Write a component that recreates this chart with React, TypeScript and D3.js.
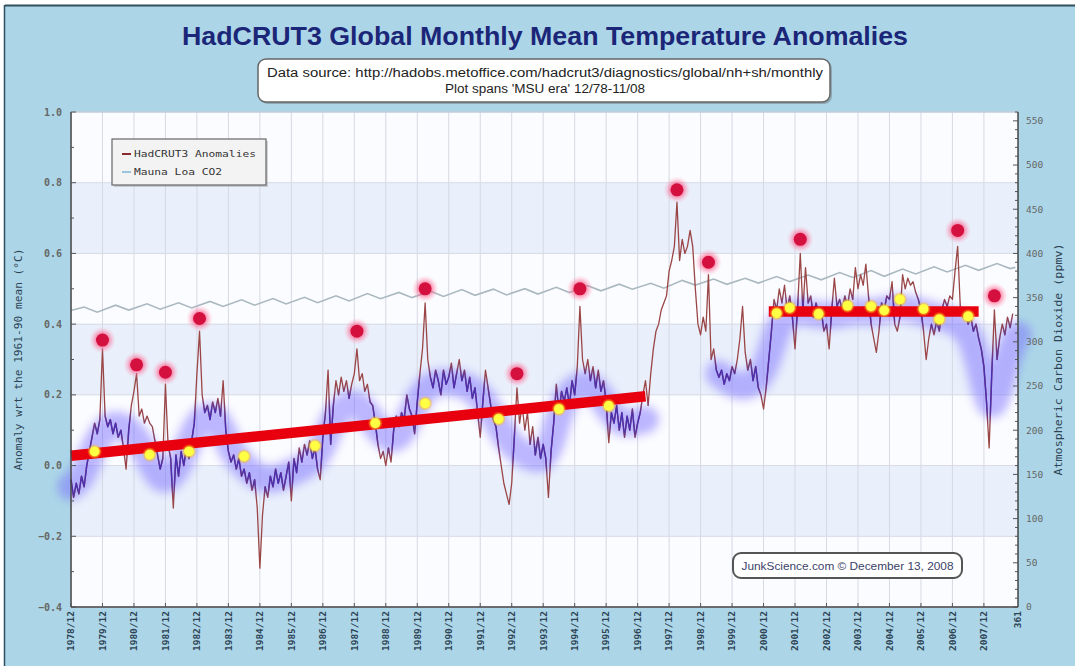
import React from 'react'
import * as d3 from 'd3'

// HadCRUT3 monthly anomalies, 12/78 .. 11/08 (one row per Dec..Nov year)
const anomalies: number[] = [
  -0.04, -0.09, -0.05, -0.08, -0.03, -0.06, 0.00, 0.04, 0.08, 0.12, 0.09, 0.13,
  0.33, 0.14, 0.11, 0.13, 0.09, 0.12, 0.08, 0.10, 0.05, -0.01, 0.10, 0.17,
  0.21, 0.26, 0.14, 0.16, 0.12, 0.14, 0.12, 0.11, 0.07, 0.03, -0.01, 0.02,
  0.23, 0.06, 0.02, -0.12, 0.03, -0.03, 0.04, 0.00, 0.05, 0.02, 0.07, 0.12,
  0.26, 0.38, 0.20, 0.15, 0.17, 0.13, 0.18, 0.15, 0.19, 0.14, 0.24, 0.10,
  0.04, 0.01, 0.03, -0.01, 0.02, -0.03, -0.01, -0.05, -0.02, -0.07, -0.04, -0.12,
  -0.29, -0.14, -0.06, -0.09, -0.03, -0.06, -0.01, -0.05, -0.02, -0.07, -0.03, 0.01,
  -0.10, 0.02, -0.02, 0.05, 0.01, 0.06, 0.03, 0.07, 0.02, 0.05, -0.01, -0.04,
  0.08, 0.15, 0.27, 0.06, 0.17, 0.24, 0.20, 0.25, 0.21, 0.24, 0.19, 0.23,
  0.26, 0.33, 0.24, 0.26, 0.21, 0.23, 0.18, 0.17, 0.12, 0.06, 0.02, 0.04,
  0.00, 0.05, 0.01, 0.10, 0.14, 0.11, 0.15, 0.13, 0.20, 0.16, 0.14, 0.09,
  0.18, 0.26, 0.33, 0.46, 0.30, 0.25, 0.22, 0.27, 0.24, 0.20, 0.27, 0.23,
  0.25, 0.29, 0.22, 0.26, 0.30, 0.24, 0.27, 0.21, 0.25, 0.19, 0.22, 0.15,
  0.08, 0.18, 0.27, 0.22, 0.17, 0.13, 0.11, 0.05, 0.00, -0.05, -0.08, -0.11,
  -0.05, 0.08, 0.22, 0.12, 0.17, 0.10, 0.15, 0.06, 0.11, 0.03, 0.08, 0.02,
  0.06, 0.02, -0.09, 0.04, 0.12, 0.23, 0.15, 0.21, 0.18, 0.22, 0.17, 0.24,
  0.20, 0.28, 0.45, 0.30, 0.26, 0.30, 0.24, 0.28, 0.22, 0.27, 0.21, 0.24,
  0.18, 0.065, 0.15, 0.12, 0.17, 0.10, 0.15, 0.08, 0.14, 0.10, 0.16, 0.08,
  0.12, 0.15, 0.20, 0.24, 0.17, 0.26, 0.33, 0.38, 0.40, 0.44, 0.46, 0.48,
  0.55, 0.58, 0.62, 0.745, 0.58, 0.64, 0.60, 0.62, 0.665, 0.62, 0.50, 0.40,
  0.37, 0.42, 0.38, 0.54, 0.30, 0.33, 0.27, 0.25, 0.27, 0.23, 0.26, 0.24,
  0.28, 0.26, 0.30, 0.36, 0.45, 0.32, 0.27, 0.30, 0.24, 0.28, 0.22, 0.20,
  0.16, 0.22, 0.30, 0.38, 0.47, 0.44, 0.50, 0.46, 0.51, 0.44, 0.48, 0.42,
  0.33, 0.45, 0.60, 0.44, 0.56, 0.46, 0.48, 0.42, 0.46, 0.43, 0.44, 0.38,
  0.40, 0.33, 0.44, 0.53, 0.45, 0.47, 0.44, 0.48, 0.45, 0.50, 0.47, 0.56,
  0.50, 0.54, 0.51, 0.57, 0.48, 0.40, 0.36, 0.32, 0.38, 0.46, 0.44, 0.48,
  0.47, 0.52, 0.40, 0.38, 0.42, 0.54, 0.50, 0.53, 0.51, 0.52, 0.49, 0.47,
  0.44, 0.38, 0.30, 0.36, 0.40, 0.37, 0.41, 0.38, 0.44, 0.47, 0.45, 0.48,
  0.47, 0.55, 0.62, 0.45, 0.42, 0.43, 0.40, 0.42, 0.38, 0.40, 0.36, 0.33,
  0.28, 0.18, 0.05, 0.26, 0.44, 0.30, 0.36, 0.40, 0.37, 0.42, 0.39, 0.43,
]

const yearLabels = [
  '1978/12', '1979/12', '1980/12', '1981/12', '1982/12', '1983/12', '1984/12', '1985/12',
  '1986/12', '1987/12', '1988/12', '1989/12', '1990/12', '1991/12', '1992/12', '1993/12',
  '1994/12', '1995/12', '1996/12', '1997/12', '1998/12', '1999/12', '2000/12', '2001/12',
  '2002/12', '2003/12', '2004/12', '2005/12', '2006/12', '2007/12',
]
const endLabel = '361'

// Mauna Loa CO2 turning points (month index, ppmv)
const co2Months = [0, 5, 10, 17, 22, 29, 34, 41, 46, 53, 58, 65, 70, 77, 82, 89, 94, 101, 106,
  113, 118, 125, 130, 137, 142, 149, 154, 161, 166, 173, 178, 185, 190, 197, 202, 209, 214,
  221, 226, 233, 238, 245, 250, 257, 262, 269, 274, 281, 286, 293, 298, 305, 310, 317, 322,
  329, 334, 341, 346, 353, 358, 360]
const co2Values = [335.4, 339.3, 333.5, 341.5, 335.9, 343.0, 336.9, 344.2, 338.3, 345.7, 340.0,
  347.5, 341.5, 348.9, 342.8, 350.3, 344.3, 352.0, 346.3, 354.6, 348.8, 355.9, 350.0, 357.3,
  351.4, 359.1, 352.6, 359.6, 353.0, 360.1, 354.0, 361.7, 355.7, 363.5, 357.7, 365.2, 359.6,
  366.2, 360.7, 369.5, 364.2, 371.0, 365.1, 371.8, 366.5, 373.8, 368.1, 375.6, 370.1, 378.4,
  372.8, 380.6, 374.1, 382.4, 376.8, 384.9, 379.0, 386.5, 380.9, 388.5, 382.9, 384.2]

// red peak markers
const peakMonths = [12, 25, 36, 49, 109, 135, 170, 194, 231, 243, 278, 338, 352]
const peakValues = [0.355, 0.285, 0.264, 0.416, 0.38, 0.50, 0.26, 0.50, 0.78, 0.575, 0.64, 0.665, 0.48]

// yellow markers on the trend bars
const markerMonths = [9, 30, 45, 66, 93, 116, 135, 163, 186, 205, 269, 274, 285, 296, 305, 310, 316, 325, 331, 342]
const markerValues = [0.04, 0.031, 0.04, 0.026, 0.056, 0.12, 0.176, 0.132, 0.16, 0.169,
  0.431, 0.446, 0.429, 0.452, 0.45, 0.439, 0.47, 0.443, 0.414, 0.422]

// red trend bars
const trendStartMonths = [0, 266]
const trendEndMonths = [219, 346]
const trendStartValues = [0.028, 0.436]
const trendEndValues = [0.196, 0.436]

// blue highlighter track
const glowMonthsA = [0, 4, 8, 13, 19, 24, 29, 34, 39, 43, 48, 53, 57, 61, 66, 72, 78, 84, 90, 95,
  100, 106, 111, 116, 121, 126, 131, 136, 143, 150, 156, 161, 167, 173, 179, 183, 187, 193, 199,
  204, 209, 214, 219]
const glowValuesA = [-0.06, -0.04, 0.04, 0.11, 0.12, 0.09, 0.03, -0.05, -0.03, 0.03, 0.12, 0.15,
  0.12, 0.04, 0.0, -0.04, -0.04, -0.02, 0.0, 0.03, 0.14, 0.18, 0.17, 0.11, 0.07, 0.08, 0.17, 0.23,
  0.24, 0.23, 0.2, 0.14, 0.06, 0.03, 0.01, 0.05, 0.18, 0.23, 0.23, 0.17, 0.12, 0.12, 0.13]
const glowMonthsB = [247, 252, 257, 262, 266, 270, 275, 282, 290, 298, 306, 314, 322, 330, 338,
  344, 348, 351, 354, 358, 361]
const glowValuesB = [0.26, 0.23, 0.22, 0.24, 0.3, 0.41, 0.44, 0.43, 0.42, 0.44, 0.43, 0.45, 0.44,
  0.42, 0.41, 0.36, 0.22, 0.15, 0.22, 0.33, 0.37]

const leftTicks = [-0.4, -0.2, 0.0, 0.2, 0.4, 0.6, 0.8, 1.0]
const rightTicks = [0, 50, 100, 150, 200, 250, 300, 350, 400, 450, 500, 550]

const W = 1075
const H = 666
const plot = { left: 71, right: 1018, top: 112, bottom: 607 }
const mono = '"DejaVu Sans Mono", monospace'
const sans = '"Liberation Sans", Arial, sans-serif'

export default function App() {
  const x = d3.scaleLinear().domain([0, 361]).range([plot.left, plot.right])
  const y = d3.scaleLinear().domain([-0.4, 1.0]).range([plot.bottom, plot.top])
  const y2 = d3.scaleLinear().domain([0, 560]).range([plot.bottom, plot.top])

  const dataPath = d3.line<number>().x((d, i) => x(i)).y(d => y(d))(anomalies) || ''
  const co2Path = d3.line<number>().x((d, i) => x(co2Months[i])).y(d => y2(d))(co2Values) || ''
  const glowPath = (months: number[], values: number[]) =>
    d3.line<number>().curve(d3.curveBasis).x((d, i) => x(months[i])).y(d => y(d))(values) || ''
  const glowA = glowPath(glowMonthsA, glowValuesA)
  const glowB = glowPath(glowMonthsB, glowValuesB)

  const minorLeft = d3.range(-4, 11).map(d => d / 10)
  const minorRight = d3.range(0, 561, 10)

  return (
    <svg width={W} height={H} style={{ position: 'absolute', left: 0, top: 0, display: 'block' }}>
      <defs>
        <filter id="blur" x="-10%" y="-40%" width="120%" height="180%">
          <feGaussianBlur stdDeviation="5" />
        </filter>
        <mask id="glowMask" maskUnits="userSpaceOnUse" x={0} y={0} width={W} height={H}>
          <g filter="url(#blur)">
            <path d={glowA} fill="none" stroke="#fff" strokeWidth={26} strokeLinecap="round" />
            <path d={glowB} fill="none" stroke="#fff" strokeWidth={26} strokeLinecap="round" />
          </g>
        </mask>
        <radialGradient id="peakGlow">
          <stop offset="0" stopColor="#ff1f55" stopOpacity="0.95" />
          <stop offset="0.55" stopColor="#ff4f80" stopOpacity="0.5" />
          <stop offset="1" stopColor="#ffb0c8" stopOpacity="0" />
        </radialGradient>
        <radialGradient id="yellowGlow">
          <stop offset="0" stopColor="#ffff55" stopOpacity="1" />
          <stop offset="0.6" stopColor="#ffdd33" stopOpacity="0.85" />
          <stop offset="1" stopColor="#ffaa00" stopOpacity="0" />
        </radialGradient>
      </defs>

      {/* frame */}
      <rect x={0} y={0} width={W} height={H} fill="#ffffff" />
      <rect x={5} y={5} width={W - 5} height={H - 5} fill="#acd6e7" />
      <line x1={5} x2={W} y1={5.5} y2={5.5} stroke="#2f4f5f" strokeWidth={2} />
      <line x1={4.5} x2={4.5} y1={5} y2={H} stroke="#2f4f5f" strokeWidth={1.5} />

      {/* title */}
      <text x={545} y={45} textAnchor="middle" fontFamily={sans}
        fontWeight="bold" fontSize={25} fill="#1b2678" textLength={726} lengthAdjust="spacingAndGlyphs">
        HadCRUT3 Global Monthly Mean Temperature Anomalies
      </text>

      {/* source box */}
      <rect x={260} y={61} width={572} height={43} rx={8} fill="#555" opacity={0.35} />
      <rect x={258} y={59} width={572} height={43} rx={8} fill="#ffffff" stroke="#666" strokeWidth={1.5} />
      <text x={545} y={77} textAnchor="middle" fontFamily={sans}
        fontSize={12} fill="#222" textLength={556} lengthAdjust="spacingAndGlyphs">
        Data source: http://hadobs.metoffice.com/hadcrut3/diagnostics/global/nh+sh/monthly
      </text>
      <text x={545} y={93} textAnchor="middle" fontFamily={sans}
        fontSize={12} fill="#222" textLength={200} lengthAdjust="spacingAndGlyphs">
        Plot spans 'MSU era' 12/78-11/08
      </text>

      {/* plot background bands */}
      {leftTicks.slice(0, -1).map((t, i) => (
        <rect key={'b' + i} x={plot.left} y={y(leftTicks[i + 1])} width={plot.right - plot.left}
          height={y(t) - y(leftTicks[i + 1])} fill={i % 2 === 1 ? '#e9effb' : '#fbfcff'} />
      ))}

      {/* grid */}
      {yearLabels.map((lab, i) => (
        <line key={'vg' + i} x1={x(i * 12)} x2={x(i * 12)} y1={plot.top} y2={plot.bottom}
          stroke="#d6d9e3" strokeWidth={1} />
      ))}
      {leftTicks.map(t => (
        <line key={'hg' + t} x1={plot.left} x2={plot.right} y1={y(t)} y2={y(t)} stroke="#d9dce6" strokeWidth={1} />
      ))}

      {/* CO2 */}
      <path d={co2Path} fill="none" stroke="#aab8c0" strokeWidth={1.6} />

      {/* highlighter under the line */}
      <g filter="url(#blur)" opacity={0.47}>
        <path d={glowA} fill="none" stroke="#7468ff" strokeWidth={27} strokeLinecap="round" />
        <path d={glowB} fill="none" stroke="#7468ff" strokeWidth={27} strokeLinecap="round" />
      </g>

      {/* anomalies: brown, turning purple inside the highlighter */}
      <path d={dataPath} fill="none" stroke="#9a4646" strokeWidth={1.3} strokeLinejoin="round" />
      <path d={dataPath} fill="none" stroke="#4a2fb0" strokeWidth={1.5} strokeLinejoin="round" mask="url(#glowMask)" />

      {/* trend bars */}
      {trendStartMonths.map((s, i) => (
        <line key={'t' + i} x1={x(s)} x2={x(trendEndMonths[i])} y1={y(trendStartValues[i])} y2={y(trendEndValues[i])}
          stroke="#e8000e" strokeWidth={10.5} />
      ))}

      {/* yellow markers */}
      {markerMonths.map((m, i) => (
        <g key={'y' + i}>
          <circle cx={x(m)} cy={y(markerValues[i])} r={7.5} fill="url(#yellowGlow)" />
          <circle cx={x(m)} cy={y(markerValues[i])} r={4.8} fill="#ffff44" />
        </g>
      ))}

      {/* red peak markers */}
      {peakMonths.map((m, i) => (
        <g key={'p' + i}>
          <circle cx={x(m)} cy={y(peakValues[i])} r={13.5} fill="url(#peakGlow)" />
          <circle cx={x(m)} cy={y(peakValues[i])} r={6.5} fill="#d4103f" />
        </g>
      ))}

      {/* axes */}
      <line x1={plot.left} x2={plot.right} y1={plot.top} y2={plot.top} stroke="#b8c4d0" strokeWidth={1} />
      <line x1={plot.left} x2={plot.left} y1={plot.top} y2={plot.bottom} stroke="#444" strokeWidth={1.5} />
      <line x1={plot.left} x2={plot.right} y1={plot.bottom} y2={plot.bottom} stroke="#444" strokeWidth={1.5} />
      <line x1={plot.right} x2={plot.right} y1={plot.top} y2={plot.bottom} stroke="#444" strokeWidth={1.5} />

      {minorLeft.map(t => (
        <line key={'ml' + t} x1={plot.left} x2={plot.left + (Math.abs(Math.round(t * 10)) % 2 === 0 ? 5 : 3)}
          y1={y(t)} y2={y(t)} stroke="#555" strokeWidth={1} />
      ))}
      {leftTicks.map(t => (
        <text key={'ll' + t} x={plot.left - 9} y={y(t)} dy="0.35em" textAnchor="end" fontFamily={mono}
          fontWeight="bold" fontSize={10} fill="#666">{d3.format('.1f')(t)}</text>
      ))}

      {minorRight.map(t => (
        <line key={'mr' + t} x1={plot.right - (t % 50 === 0 ? 5 : 3)} x2={plot.right} y1={y2(t)} y2={y2(t)}
          stroke="#555" strokeWidth={1} />
      ))}
      {rightTicks.map(t => (
        <text key={'rl' + t} x={plot.right + 8} y={y2(t)} dy="0.35em" textAnchor="start" fontFamily={mono}
          fontSize={9.5} fill="#666">{t}</text>
      ))}

      {yearLabels.map((lab, i) => (
        <g key={'xl' + i}>
          <line x1={x(i * 12)} x2={x(i * 12)} y1={plot.bottom} y2={plot.bottom - 4} stroke="#555" strokeWidth={1} />
          <text transform={`translate(${x(i * 12)},${plot.bottom + 4}) rotate(-90)`} dy="0.35em" textAnchor="end"
            fontFamily={mono} fontWeight="bold" fontSize={9.5} fill="#2e4456">{lab}</text>
        </g>
      ))}
      <text transform={`translate(${x(361)},${plot.bottom + 4}) rotate(-90)`} dy="0.35em" textAnchor="end"
        fontFamily={mono} fontWeight="bold" fontSize={9.5} fill="#2e4456">{endLabel}</text>

      {/* axis titles */}
      <text transform={`translate(22,${(plot.top + plot.bottom) / 2}) rotate(-90)`} textAnchor="middle"
        fontFamily={mono} fontSize={10} fill="#2e4456" textLength={222} lengthAdjust="spacingAndGlyphs">
        Anomaly wrt the 1961-90 mean (°C)
      </text>
      <text transform={`translate(1062,${(plot.top + plot.bottom) / 2}) rotate(-90)`} textAnchor="middle"
        fontFamily={mono} fontSize={10} fill="#2e4456" textLength={232} lengthAdjust="spacingAndGlyphs">
        Atmospheric Carbon Dioxide (ppmv)
      </text>

      {/* legend */}
      <rect x={114} y={141} width={154} height={46} fill="#888" opacity={0.35} />
      <rect x={112} y={139} width={154} height={46} fill="#f3f3f3" stroke="#666" strokeWidth={1.2} />
      <line x1={122} x2={131} y1={154} y2={154} stroke="#8b2b2b" strokeWidth={2} />
      <text x={134} y={154} dy="0.35em" fontFamily={mono} fontSize={9} fill="#333" textLength={122}
        lengthAdjust="spacingAndGlyphs">HadCRUT3 Anomalies</text>
      <line x1={122} x2={131} y1={172} y2={172} stroke="#9cc4de" strokeWidth={2} />
      <text x={134} y={172} dy="0.35em" fontFamily={mono} fontSize={9} fill="#333" textLength={88}
        lengthAdjust="spacingAndGlyphs">Mauna Loa CO2</text>

      {/* credit box */}
      <rect x={733} y={553} width={229} height={25} rx={8} fill="#ffffff" stroke="#555" strokeWidth={2} />
      <text x={847.5} y={566} dy="0.35em" textAnchor="middle" fontFamily={sans}
        fontSize={10.5} fill="#3a3f6a" textLength={212} lengthAdjust="spacingAndGlyphs">
        JunkScience.com © December 13, 2008
      </text>
    </svg>
  )
}
